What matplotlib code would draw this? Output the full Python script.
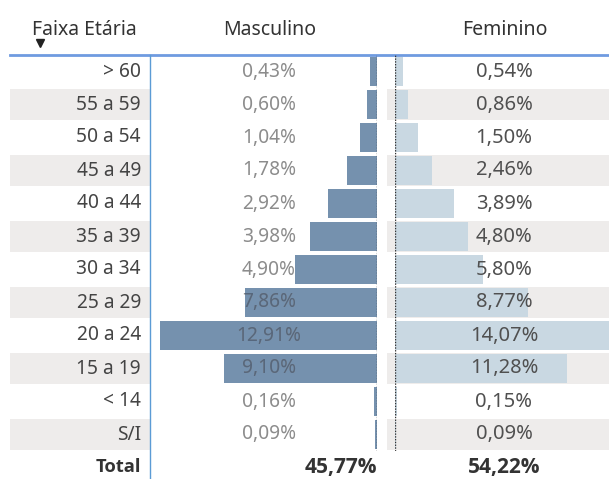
import matplotlib
matplotlib.use('Agg')
import matplotlib.pyplot as plt

plt.rcParams['font.family'] = ['Noto Sans', 'DejaVu Sans']

# dados da tabela
faixas = ['> 60', '55 a 59', '50 a 54', '45 a 49', '40 a 44', '35 a 39',
          '30 a 34', '25 a 29', '20 a 24', '15 a 19', '< 14', 'S/I']
masculino = [0.43, 0.60, 1.04, 1.78, 2.92, 3.98, 4.90, 7.86, 12.91, 9.10, 0.16, 0.09]
feminino = [0.54, 0.86, 1.50, 2.46, 3.89, 4.80, 5.80, 8.77, 14.07, 11.28, 0.15, 0.09]
total_masc = 45.77
total_fem = 54.22

def fmt(v):
    return f'{v:.2f}%'.replace('.', ',')

W, H = 609, 479
fig = plt.figure(figsize=(W / 100, H / 100), dpi=100)

# eixo de fundo em pixels (linhas, faixas cinza, textos)
ax = fig.add_axes([0, 0, 1, 1])
ax.set_xlim(0, W)
ax.set_ylim(H, 0)
ax.axis('off')

top = 55
row_h = 33
n = len(faixas)
cinza = '#eeeceb'

for i in range(n):
    y0 = top + i * row_h
    if i % 2 == 1:
        ax.add_patch(plt.Rectangle((10, y0 + 1), 140, row_h - 2, color=cinza, lw=0, zorder=0))
        ax.add_patch(plt.Rectangle((387, y0 + 1), W - 387, row_h - 2, color=cinza, lw=0, zorder=0))

# cabeçalho
ax.text(32, 30, 'Faixa Etária', fontsize=14, color='#333333', ha='left', va='center')
ax.plot([40], [43], marker='v', color='#222222', markersize=5.5)
ax.text(270, 30, 'Masculino', fontsize=14, color='#333333', ha='center', va='center')
ax.text(505, 30, 'Feminino', fontsize=14, color='#333333', ha='center', va='center')

ax.plot([10, W], [top, top], color='#6f9be0', lw=2, zorder=3)
ax.plot([150, 150], [top, H], color='#5b9bd5', lw=1, zorder=3)

# eixos das barras
def col_axes(x0, x1):
    a = fig.add_axes([x0 / W, 1 - (top + n * row_h) / H, (x1 - x0) / W, n * row_h / H])
    a.set_ylim(n - 0.5, -0.5)
    a.axis('off')
    a.patch.set_alpha(0)
    return a

ax_m = col_axes(160, 377)
ax_m.set_xlim(-max(masculino), 0)
bars_m = ax_m.barh(range(n), [-v for v in masculino], height=0.86, color='#7591ae')
ax_m.axvline(0, color='#333333', lw=1, ls=(0, (1, 1)))

ax_f = col_axes(395, 609)
ax_f.set_xlim(0, max(feminino))
ax_f.barh(range(n), feminino, height=0.86, color='#c9d8e2')
ax_f.axvline(0, color='#333333', lw=1, ls=(0, (1, 1)))

# textos das linhas
txt = fig.add_axes([0, 0, 1, 1])
txt.set_xlim(0, W)
txt.set_ylim(H, 0)
txt.axis('off')
txt.patch.set_alpha(0)
for i in range(n):
    yc = top + i * row_h + row_h / 2
    txt.text(141, yc, faixas[i], fontsize=13.8, color='#444444', ha='right', va='center')
    txt.text(269, yc, fmt(masculino[i]), fontsize=13.8, color='#8c8c8c', ha='center', va='center')
    # parte do texto sobre a barra fica mais escura
    t2 = txt.text(269, yc, fmt(masculino[i]), fontsize=13.8, color='#56677d', ha='center', va='center')
    t2.set_clip_on(True)
    t2.set_clip_path(bars_m[i])
    txt.text(504, yc, fmt(feminino[i]), fontsize=14.5, color='#505050', ha='center', va='center')

yt = top + n * row_h + 16
bold = dict(color='#333333', va='center', weight='bold', family='Open Sans')
txt.text(141, yt, 'Total', ha='right', fontsize=13.2, **bold)
txt.text(377, yt, fmt(total_masc), ha='right', fontsize=15, **bold)
txt.text(504, yt, fmt(total_fem), ha='center', fontsize=15, **bold)

fig.savefig('out.png', dpi=100)
